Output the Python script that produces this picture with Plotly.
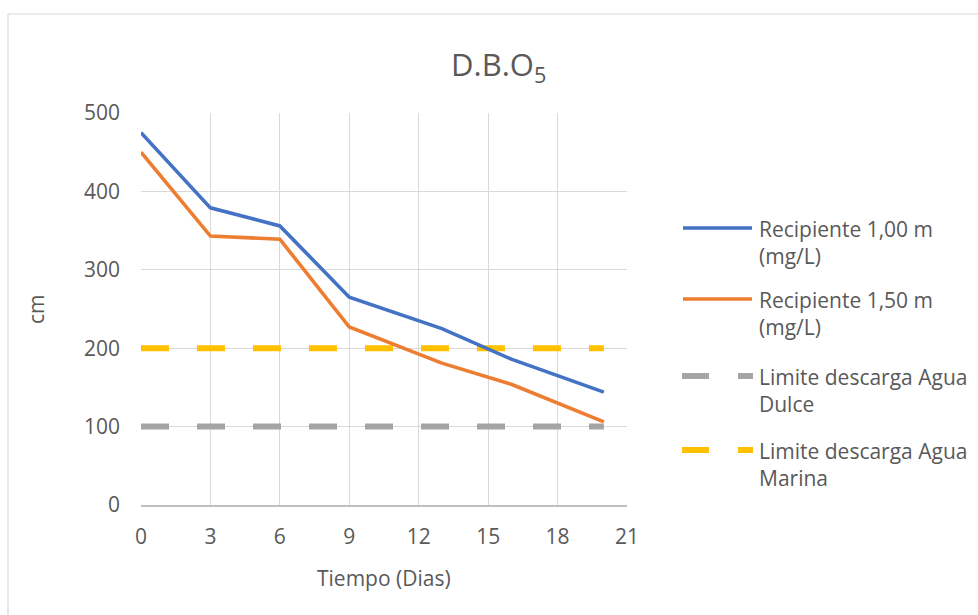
import plotly.graph_objects as go

# Días de muestreo y valores de D.B.O5
dias = [0, 3, 6, 9, 13, 16, 20]
recipiente_100 = [475, 379, 356, 265, 225, 186, 144]
recipiente_150 = [450, 343, 339, 227, 181, 154, 106]
limite_dulce = [100, 100, 100, 100, 100, 100, 100]
limite_marina = [200, 200, 200, 200, 200, 200, 200]

nombres = [
    "Recipiente 1,00 m<br>(mg/L)",
    "Recipiente 1,50 m<br>(mg/L)",
    "Limite descarga Agua<br>Dulce",
    "Limite descarga Agua<br>Marina",
]
colores = ["#4472C4", "#ED7D31", "#A5A5A5", "#FFC000"]

x_ticks = [0, 3, 6, 9, 12, 15, 18, 21]
y_ticks = [0, 100, 200, 300, 400, 500]

FONT = "Open Sans"
GRIS_TEXTO = "#595959"
W, H = 978, 615
L, R, T, B = 141, 351, 113, 110
PW, PH = W - L - R, H - T - B


def px_x(p):
    return (p - L) / PW


def px_y(p):
    return (H - B - p) / PH


fig = go.Figure()

series = [
    (recipiente_100, dict(width=3.6, dash="solid")),
    (recipiente_150, dict(width=3.6, dash="solid")),
    (limite_dulce, dict(width=6, dash="28px,28px")),
    (limite_marina, dict(width=6, dash="28px,28px")),
]
# dashed limits drawn underneath the measured series
for idx in [2, 3, 0, 1]:
    vals, st = series[idx]
    fig.add_trace(go.Scatter(
        x=dias, y=vals, mode="lines", name=nombres[idx],
        line=dict(color=colores[idx], width=st["width"], dash=st["dash"]),
        showlegend=False, hoverinfo="skip",
    ))

shapes = []
annotations = []

# outer chart frame
shapes.append(dict(type="rect", xref="paper", yref="paper",
                   x0=px_x(8), x1=px_x(990), y0=px_y(625), y1=px_y(14),
                   line=dict(color="#D9D9D9", width=1.2), fillcolor="rgba(0,0,0,0)",
                   layer="below"))

# legend entries
leg_y = [228, 299, 376, 450]
for i, yy in enumerate(leg_y):
    if i < 2:
        shapes.append(dict(type="line", xref="paper", yref="paper",
                           x0=px_x(683), x1=px_x(752), y0=px_y(yy), y1=px_y(yy),
                           line=dict(color=colores[i], width=3.6)))
    else:
        for a, b in [(682, 709), (738, 753)]:
            shapes.append(dict(type="line", xref="paper", yref="paper",
                               x0=px_x(a), x1=px_x(b), y0=px_y(yy), y1=px_y(yy),
                               line=dict(color=colores[i], width=6)))
    annotations.append(dict(xref="paper", yref="paper", x=px_x(757), y=px_y(yy - 15),
                            xanchor="left", yanchor="top", align="left",
                            text=nombres[i], showarrow=False,
                            font=dict(family=FONT, size=21, color=GRIS_TEXTO)))

# title and axis titles
annotations.append(dict(xref="paper", yref="paper", x=px_x(498), y=px_y(66),
                        text="D.B.O<sub>5</sub>", showarrow=False,
                        xanchor="center", yanchor="middle",
                        font=dict(family=FONT, size=31, color=GRIS_TEXTO)))
annotations.append(dict(xref="paper", yref="paper", x=px_x(36), y=px_y(309),
                        text="cm", showarrow=False, textangle=-90,
                        xanchor="center", yanchor="middle",
                        font=dict(family=FONT, size=21, color=GRIS_TEXTO)))
annotations.append(dict(xref="paper", yref="paper", x=px_x(384), y=px_y(578),
                        text="Tiempo (Dias)", showarrow=False,
                        xanchor="center", yanchor="middle",
                        font=dict(family=FONT, size=21, color=GRIS_TEXTO)))

fig.update_layout(
    width=W, height=H,
    margin=dict(l=L, r=R, t=T, b=B),
    paper_bgcolor="white", plot_bgcolor="white",
    font=dict(family=FONT, color=GRIS_TEXTO),
    shapes=shapes, annotations=annotations,
    showlegend=False,
)
fig.update_xaxes(
    range=[0, 21], tickvals=x_ticks, ticktext=[str(v) for v in x_ticks],
    showgrid=True, gridcolor="#D9D9D9", gridwidth=1.3,
    showline=True, linecolor="#BFBFBF", linewidth=1.5,
    zeroline=False, ticks="", ticklabelstandoff=12,
    tickfont=dict(family=FONT, size=21, color=GRIS_TEXTO),
)
fig.update_yaxes(
    range=[0, 500], tickvals=y_ticks, ticktext=[str(v) for v in y_ticks],
    showgrid=True, gridcolor="#D9D9D9", gridwidth=1.3,
    showline=False, zeroline=False, ticks="", ticklabelstandoff=20,
    tickfont=dict(family=FONT, size=21, color=GRIS_TEXTO),
)

fig.write_html("out.html")
